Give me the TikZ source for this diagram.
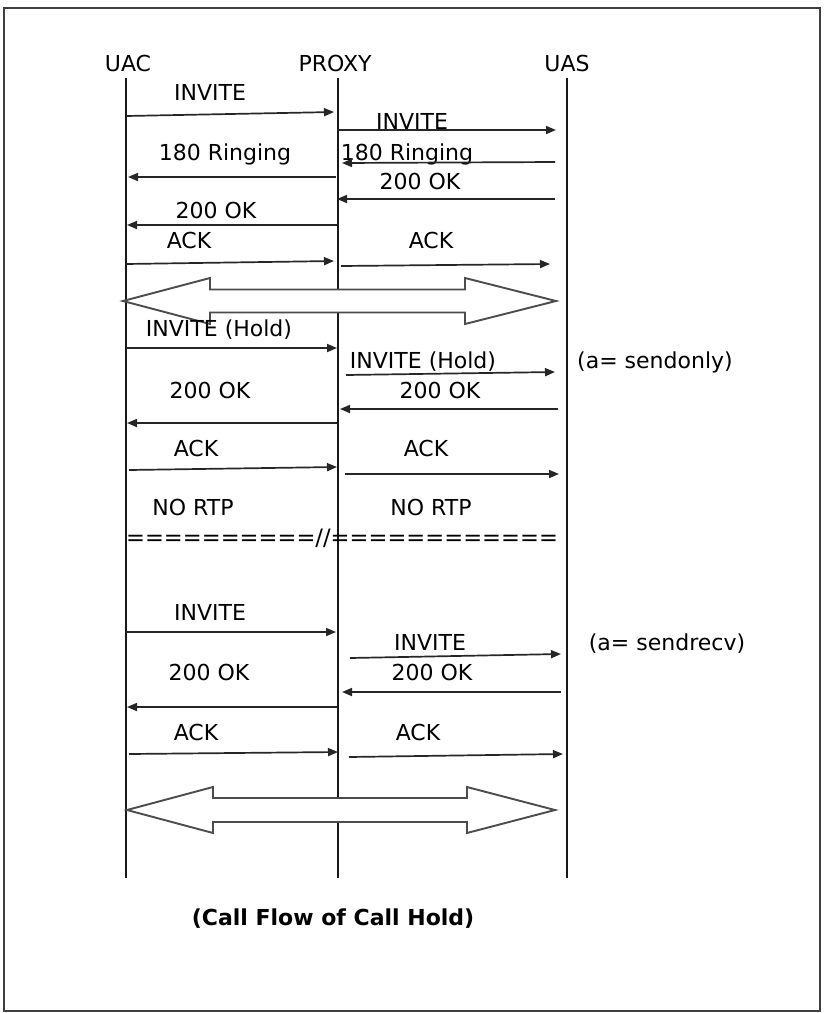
\documentclass[tikz,border=0pt]{standalone}
\usepackage{fontspec}
\setmainfont{DejaVu Sans}
\usetikzlibrary{arrows.meta,calc}
\begin{document}
\begin{tikzpicture}[x=1pt,y=-1pt,
  life/.style={line width=1.8pt, black!90},
  msg/.style={line width=1.7pt, black!85, -{Triangle[length=10pt,width=8pt]}},
  lbl/.style={inner sep=0pt, text height=16pt, text depth=0pt, font=\fontsize{22}{26}\selectfont},
  big/.style={draw=black!70, line width=1.9pt, fill=white, line join=miter},
  frame/.style={draw=black!75, line width=1.8pt}]
\useasboundingbox (0,0) rectangle (825,1013);
\draw[frame] (4,8) rectangle (820,1011);

% lifelines
\node[lbl] (uac) at (128,63) {UAC};
\node[lbl] (proxy) at (335,63) {PROXY};
\node[lbl] (uas) at (567,63) {UAS};
\coordinate (uacT) at (126,78);  \coordinate (uacB) at (126,878);
\coordinate (prxT) at (338,78);  \coordinate (prxB) at (338,878);
\coordinate (uasT) at (567,78);  \coordinate (uasB) at (567,878);
\draw[life] (uacT) -- (uacB);
\draw[life] (prxT) -- (prxB);
\draw[life] (uasT) -- (uasB);

% ---------- section 1 ----------
\node[lbl] (l1) at (210,92) {INVITE};
\coordinate (a1s) at (126,116); \coordinate (a1e) at (334,112);
\draw[msg] (a1s) -- (a1e);
\node[lbl] (l2) at (412,121) {INVITE};
\coordinate (a2s) at (337,130); \coordinate (a2e) at (556,130);
\draw[msg] (a2s) -- (a2e);
\node[lbl] (l3) at (225,152) {180 Ringing};
\coordinate (a3s) at (336,177); \coordinate (a3e) at (128,177);
\draw[msg] (a3s) -- (a3e);
\node[lbl] (l4) at (407,152) {180 Ringing};
\coordinate (a4s) at (555,162); \coordinate (a4e) at (342,163);
\draw[msg] (a4s) -- (a4e);
\node[lbl] (l5) at (420,181) {200 OK};
\coordinate (a5s) at (555,199); \coordinate (a5e) at (337,199);
\draw[msg] (a5s) -- (a5e);
\node[lbl] (l6) at (216,210) {200 OK};
\coordinate (a6s) at (337,225); \coordinate (a6e) at (127,225);
\draw[msg] (a6s) -- (a6e);
\node[lbl] (l7) at (189,240) {ACK};
\coordinate (a7s) at (126,264); \coordinate (a7e) at (334,261);
\draw[msg] (a7s) -- (a7e);
\node[lbl] (l8) at (431,240) {ACK};
\coordinate (a8s) at (341,266); \coordinate (a8e) at (550,264);
\draw[msg] (a8s) -- (a8e);

% big double arrow 1
\coordinate (d1l) at (123,301); \coordinate (d1r) at (556,301);
\draw[big] (d1l) -- ++(87,-23) -- ++(0,11.5) -- ($(d1r)+(-91,-11.5)$) -- ++(0,-11.5)
  -- (d1r) -- ++(-91,23) -- ++(0,-11.5) -- ($(d1l)+(87,11.5)$) -- ++(0,11.5) -- cycle;

% ---------- section 2 ----------
\node[lbl] (l9) at (219,328) {INVITE (Hold)};
\coordinate (b1s) at (126,348); \coordinate (b1e) at (337,348);
\draw[msg] (b1s) -- (b1e);
\node[lbl] (l10) at (423,360) {INVITE (Hold)};
\coordinate (b2s) at (346,375); \coordinate (b2e) at (555,372);
\draw[msg] (b2s) -- (b2e);
\node[lbl] (n1) at (655,360) {(a= sendonly)};
\node[lbl] (l11) at (210,390) {200 OK};
\coordinate (b3s) at (337,423); \coordinate (b3e) at (127,423);
\draw[msg] (b3s) -- (b3e);
\node[lbl] (l12) at (440,390) {200 OK};
\coordinate (b4s) at (558,409); \coordinate (b4e) at (340,409);
\draw[msg] (b4s) -- (b4e);
\node[lbl] (l13) at (196,448) {ACK};
\coordinate (b5s) at (129,470); \coordinate (b5e) at (337,467);
\draw[msg] (b5s) -- (b5e);
\node[lbl] (l14) at (426,448) {ACK};
\coordinate (b6s) at (345,474); \coordinate (b6e) at (559,474);
\draw[msg] (b6s) -- (b6e);
\node[lbl] (r1) at (193,507) {NO RTP};
\node[lbl] (r2) at (431,507) {NO RTP};
\node[lbl, font=\fontsize{22.6}{26}\selectfont] (eq) at (342,537) {==========//============};

% ---------- section 3 ----------
\node[lbl] (l15) at (210,612) {INVITE};
\coordinate (c1s) at (126,632); \coordinate (c1e) at (336,632);
\draw[msg] (c1s) -- (c1e);
\node[lbl] (l16) at (430,642) {INVITE};
\coordinate (c2s) at (350,658); \coordinate (c2e) at (561,654);
\draw[msg] (c2s) -- (c2e);
\node[lbl] (n2) at (667,642) {(a= sendrecv)};
\node[lbl] (l17) at (209,672) {200 OK};
\coordinate (c3s) at (337,707); \coordinate (c3e) at (127,707);
\draw[msg] (c3s) -- (c3e);
\node[lbl] (l18) at (432,672) {200 OK};
\coordinate (c4s) at (561,692); \coordinate (c4e) at (342,692);
\draw[msg] (c4s) -- (c4e);
\node[lbl] (l19) at (196,732) {ACK};
\coordinate (c5s) at (129,754); \coordinate (c5e) at (338,752);
\draw[msg] (c5s) -- (c5e);
\node[lbl] (l20) at (418,732) {ACK};
\coordinate (c6s) at (349,757); \coordinate (c6e) at (563,754);
\draw[msg] (c6s) -- (c6e);

% big double arrow 2
\coordinate (d2l) at (127,810); \coordinate (d2r) at (555,810);
\draw[big] (d2l) -- ++(86,-23) -- ++(0,11) -- ($(d2r)+(-88,-12)$) -- ++(0,-11)
  -- (d2r) -- ++(-88,23) -- ++(0,-11) -- ($(d2l)+(86,12)$) -- ++(0,11) -- cycle;

% title
\node[inner sep=0pt, font=\fontsize{22}{26}\selectfont\bfseries] (title) at (333,919) {(Call Flow of Call Hold)};
\end{tikzpicture}
\end{document}
